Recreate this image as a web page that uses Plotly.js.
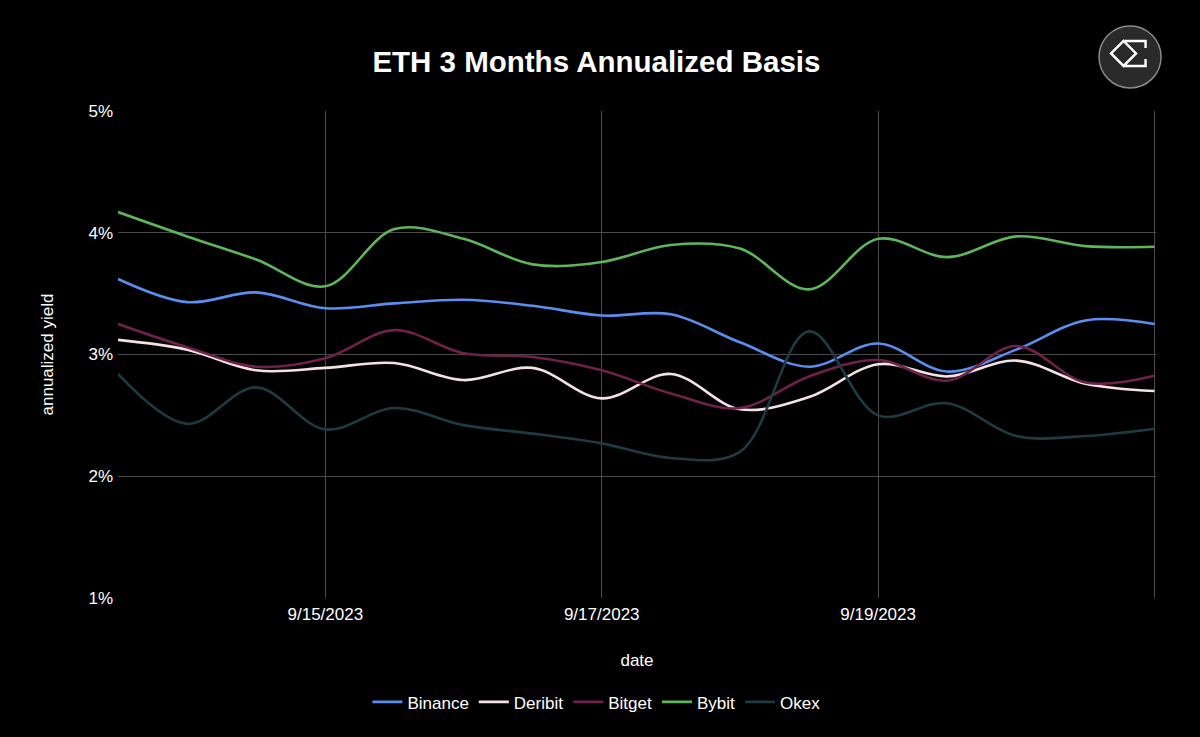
<!DOCTYPE html>
<html>
<head>
<meta charset="utf-8">
<script src="https://cdn.plot.ly/plotly-3.0.1.min.js"></script>
<style>
  html, body { margin: 0; padding: 0; background: #000; }
  #chart { width: 1200px; height: 737px; }
</style>
</head>
<body>
<div id="chart"></div>
<script>
// ---- data ----
var dates = [
  "2023-09-13 12:00", "2023-09-14 00:00", "2023-09-14 12:00", "2023-09-15 00:00",
  "2023-09-15 12:00", "2023-09-16 00:00", "2023-09-16 12:00", "2023-09-17 00:00",
  "2023-09-17 12:00", "2023-09-18 00:00", "2023-09-18 12:00", "2023-09-19 00:00",
  "2023-09-19 12:00", "2023-09-20 00:00", "2023-09-20 12:00", "2023-09-21 00:00"
];
var binance = [3.62, 3.43, 3.51, 3.38, 3.42, 3.45, 3.40, 3.32, 3.33, 3.10, 2.90, 3.09, 2.86, 3.04, 3.28, 3.25];
var deribit = [3.12, 3.04, 2.87, 2.89, 2.93, 2.79, 2.89, 2.64, 2.84, 2.55, 2.65, 2.92, 2.82, 2.95, 2.76, 2.70];
var bitget  = [3.25, 3.06, 2.90, 2.97, 3.20, 3.01, 2.98, 2.87, 2.68, 2.56, 2.82, 2.955, 2.785, 3.07, 2.77, 2.825];
var bybit   = [4.17, 3.97, 3.78, 3.56, 4.03, 3.95, 3.74, 3.76, 3.90, 3.87, 3.535, 3.95, 3.80, 3.97, 3.89, 3.885];
var okex    = [2.84, 2.43, 2.73, 2.385, 2.56, 2.42, 2.35, 2.27, 2.15, 2.20, 3.19, 2.50, 2.60, 2.33, 2.33, 2.39];

var seriesNames = ["Binance", "Deribit", "Bitget", "Bybit", "Okex"];
var seriesValues = [binance, deribit, bitget, bybit, okex];
var seriesColors = ["#5b8ef0", "#f3e1e5", "#6e2249", "#5fb55c", "#1f3b42"];

var xTickVals = ["2023-09-15", "2023-09-17", "2023-09-19", "2023-09-21"];
var xTickText = ["9/15/2023", "9/17/2023", "9/19/2023", ""];
var yTickVals = [1, 2, 3, 4, 5];
var yTickText = ["1%", "2%", "3%", "4%", "5%"];

// ---- traces ----
var traces = seriesNames.map(function (name, i) {
  return {
    type: "scatter",
    mode: "lines",
    name: name,
    x: dates,
    y: seriesValues[i],
    line: { color: seriesColors[i], width: 2.6, shape: "spline", smoothing: 1 },
    hoverinfo: "x+y+name"
  };
});

var fontFam = "Liberation Sans, Arial, Helvetica, sans-serif";

var layout = {
  width: 1200,
  height: 737,
  paper_bgcolor: "#000000",
  plot_bgcolor: "#000000",
  font: { family: fontFam, color: "#ffffff", size: 17 },
  margin: { l: 118, r: 44, t: 111, b: 139, pad: 0 },
  showlegend: true,
  title: {
    text: "<b>ETH 3 Months Annualized Basis</b>",
    font: { family: fontFam, size: 29.5, color: "#ffffff" },
    xref: "container", x: 0.497, xanchor: "center",
    yref: "container", y: 0.916, yanchor: "middle"
  },
  xaxis: {
    type: "date",
    range: ["2023-09-13 12:00", "2023-09-21 00:15"],
    tickmode: "array",
    tickvals: xTickVals,
    ticktext: xTickText,
    showgrid: true,
    gridcolor: "#4a4a4a",
    gridwidth: 1,
    zeroline: false,
    showline: false,
    ticks: "",
    ticklabelstandoff: 4,
    tickfont: { family: fontFam, size: 17, color: "#ffffff" },
    title: { text: "date", font: { family: fontFam, size: 17, color: "#ffffff" }, standoff: 31 },
    automargin: false
  },
  yaxis: {
    range: [1, 5],
    tickmode: "array",
    tickvals: yTickVals,
    ticktext: yTickText,
    showgrid: true,
    gridcolor: "#4a4a4a",
    gridwidth: 1,
    zeroline: false,
    showline: false,
    ticks: "",
    ticklabelstandoff: 4,
    tickfont: { family: fontFam, size: 17, color: "#ffffff" },
    title: { text: "annualized yield", font: { family: fontFam, size: 17, color: "#ffffff" }, standoff: 30 },
    automargin: false
  },
  legend: {
    orientation: "h",
    xref: "container", x: 0.497, xanchor: "center",
    yref: "container", y: 0.047, yanchor: "middle",
    font: { family: fontFam, size: 17, color: "#ffffff" },
    bgcolor: "rgba(0,0,0,0)",
    itemwidth: 30
  },
  shapes: [
    {
      type: "circle",
      xref: "paper", yref: "paper",
      xsizemode: "pixel", ysizemode: "pixel",
      xanchor: 0.975, yanchor: 1.111,
      x0: -31, x1: 31, y0: -31, y1: 31,
      fillcolor: "#2a2a2a",
      line: { color: "#8a8a8a", width: 1.5 },
      layer: "above"
    },
    {
      type: "path",
      xref: "paper", yref: "paper",
      xsizemode: "pixel", ysizemode: "pixel",
      xanchor: 0.975, yanchor: 1.111,
      path: "M -19 3.5 L -6.5 16 L 6 3.5 L -6.5 -9 Z M -6.5 16 L 15.5 16 L 15.5 9 M -6.5 -9 L 15.5 -9 L 15.5 -2",
      line: { color: "#ffffff", width: 2.4 },
      layer: "above"
    }
  ]
};

Plotly.newPlot("chart", traces, layout, { displayModeBar: false, staticPlot: true });
</script>
</body>
</html>
